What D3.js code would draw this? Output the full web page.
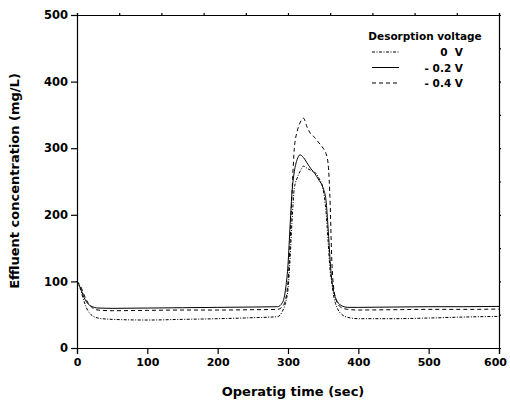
<!DOCTYPE html>
<html>
<head>
<meta charset="utf-8">
<script src="https://cdn.jsdelivr.net/npm/d3@7"></script>
<style>
  html, body { margin: 0; padding: 0; background: #fff; }
  svg text { font-family: "DejaVu Sans", Verdana, sans-serif; font-weight: bold; fill: #000; }
</style>
</head>
<body>
<div id="chart"></div>
<script>
// sampling times (sec)
const time = [0, 5, 10, 15, 20, 30, 50, 100, 150, 200, 250, 285, 292, 297, 300, 303, 306, 309, 313, 317, 322, 327, 332, 338, 344, 350, 354, 357, 360, 362, 365, 370, 377, 385, 400, 450, 500, 550, 600];

// effluent concentration (mg/L) per desorption voltage
const v0 = [100, 88, 70, 57, 50, 45, 43, 42, 43, 44, 45.5, 47, 55, 70, 88, 135, 195, 240, 255, 265, 273, 270, 267, 264, 255, 238, 205, 160, 115, 100, 78, 60, 50, 46, 44, 44, 45, 46.5, 47.5];
const v02 = [100, 90, 76, 67, 63, 60, 59.5, 60, 60.5, 61, 61.5, 62, 68, 92, 125, 185, 238, 265, 283, 290, 286, 278, 270, 262, 252, 240, 222, 180, 130, 105, 85, 70, 63, 61, 61, 61.5, 62, 62, 62.5];
const v04 = [100, 93, 80, 69, 62, 57, 56, 56.5, 57, 57, 57.5, 58, 62, 75, 100, 160, 240, 300, 325, 338, 345, 332, 322, 316, 308, 300, 292, 277, 215, 140, 90, 68, 60, 58, 57, 57.5, 58, 58, 58.5];

const seriesLabels = ["0  V", "- 0.2 V", "- 0.4 V"];
const xTicks = [0, 100, 200, 300, 400, 500, 600];
const yTicks = [0, 100, 200, 300, 400, 500];

const width = 510, height = 403;
const margin = { top: 15, right: 11, bottom: 55, left: 77 };
const w = width - margin.left - margin.right;
const h = height - margin.top - margin.bottom;

const svg = d3.select('#chart').append('svg').attr('width', width).attr('height', height);
const g = svg.append('g').attr('transform', `translate(${margin.left},${margin.top})`);

const x = d3.scaleLinear().domain([0, 600]).range([0, w]);
const y = d3.scaleLinear().domain([0, 500]).range([h, 0]);

// frame + ticks
const xAx = g.append('g').attr('transform', `translate(0,${h})`)
  .call(d3.axisBottom(x).tickValues(xTicks).tickSize(6).tickPadding(4));
const yAx = g.append('g')
  .call(d3.axisLeft(y).tickValues(yTicks).tickSize(6).tickPadding(3));
g.append('g').call(d3.axisTop(x).tickValues(d3.range(0, 601, 60)).tickSize(2).tickFormat(''));
g.append('g').attr('transform', `translate(${w},0)`)
  .call(d3.axisRight(y).tickValues(d3.range(0, 501, 50)).tickSize(2).tickFormat(''));
g.selectAll('.domain').attr('stroke', '#000').attr('stroke-width', 1.2);
g.selectAll('.tick line').attr('stroke', '#000').attr('stroke-width', 1.2);
xAx.selectAll('text').style('font-size', '11px');
yAx.selectAll('text').style('font-size', '11.5px');
// last label sits against the page edge, pull it in a bit
xAx.selectAll('text').filter(d => d === 600).attr('dx', -4);

const series = [
  { label: seriesLabels[0], values: v0, dash: '3,1.5,1,1.5' },
  { label: seriesLabels[1], values: v02, dash: null },
  { label: seriesLabels[2], values: v04, dash: '4,3' }
];

const line = d3.line().x((d, i) => x(time[i])).y(d => y(d)).curve(d3.curveMonotoneX);

series.forEach(s => {
  g.append('path').datum(s.values)
    .attr('d', line)
    .attr('fill', 'none')
    .attr('stroke', '#000')
    .attr('stroke-width', 1)
    .attr('stroke-dasharray', s.dash);
});

// legend
const lg = svg.append('g');
lg.append('text').attr('x', 425).attr('y', 40).attr('text-anchor', 'middle')
  .style('font-size', '10.5px').text('Desorption voltage');
series.forEach((s, i) => {
  const yy = 52 + i * 15.5;
  lg.append('line').attr('x1', 372).attr('x2', 399).attr('y1', yy).attr('y2', yy)
    .attr('stroke', '#000').attr('stroke-width', 1).attr('stroke-dasharray', s.dash);
  lg.append('text').attr('x', 463).attr('y', yy + 4).attr('text-anchor', 'end')
    .style('font-size', '10.5px').style('white-space', 'pre').text(s.label);
});

// axis titles
svg.append('text').attr('x', 293).attr('y', 396).attr('text-anchor', 'middle')
  .style('font-size', '13px').text('Operatig time (sec)');
svg.append('text').attr('transform', 'translate(19,181) rotate(-90)').attr('text-anchor', 'middle')
  .style('font-size', '13px').text('Effluent concentration (mg/L)');
</script>
</body>
</html>
